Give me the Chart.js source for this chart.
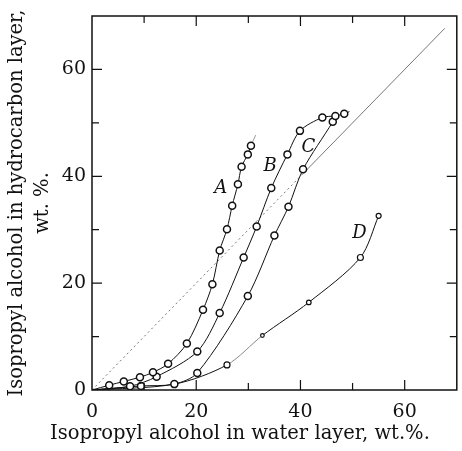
<!DOCTYPE html>
<html>
<head>
<meta charset="utf-8">
<script src="https://cdn.jsdelivr.net/npm/chart.js@4.4.0/dist/chart.umd.min.js"></script>
<style>
  html, body { margin: 0; padding: 0; background: #fff; }
  #wrap { width: 462px; height: 451px; }
</style>
</head>
<body>
<div id="wrap"><canvas id="chart" width="462" height="451"></canvas></div>
<script>
// values: [water layer wt.%, hydrocarbon layer wt.%]
const curveA = [[0, 0], [3.3, 0.9], [6.1, 1.6], [9.2, 2.4], [11.7, 3.3], [14.6, 4.9], [18.2, 8.7],
    [21.3, 15.0], [23.1, 19.8], [24.5, 26.1], [25.9, 30.1], [26.9, 34.5], [28.0, 38.5],
    [28.7, 41.8], [29.9, 44.1], [30.5, 45.7], [31.4, 47.7]];
const curveB = [[0, 0], [7.3, 0.7], [12.4, 2.5], [20.2, 7.2], [24.5, 14.4], [29.1, 24.8], [31.6, 30.6],
    [34.4, 37.8], [37.5, 44.1], [39.9, 48.5], [44.2, 51.0], [46.7, 51.3], [48.4, 51.7], [49.4, 52.1]];
const curveC = [[0, 0], [9.4, 0.75], [15.8, 1.1], [20.2, 3.2], [29.9, 17.6], [35.0, 28.9],
    [37.7, 34.3], [40.5, 41.3], [46.2, 50.2], [46.7, 51.3]];
const curveD = [[0, 0], [15.8, 1.1], [25.9, 4.7], [32.7, 10.2], [41.6, 16.4], [51.5, 24.8], [55.0, 32.6]];
const diagonal = [[0, 0], [40.5, 40.5], [67.7, 67.7]];

const curveLabels = ['A', 'B', 'C', 'D'];
const labelSpots = [[24.7, 37.8], [34.2, 41.8], [41.5, 45.5], [51.3, 29.3]];

const xTicks = [0, 20, 40, 60];
const yTicks = [0, 20, 40, 60];
const xTitle = 'Isopropyl alcohol in water layer, wt.%.';
const yTitle = ['Isopropyl alcohol in hydrocarbon layer,', 'wt. %.'];

const serif = '"DejaVu Serif", "Liberation Serif", serif';
const toXY = arr => arr.map(p => ({ x: p[0], y: p[1] }));

// axis titles in the figure run about 380px long
const probe = document.createElement('canvas').getContext('2d');
probe.font = '20px ' + serif;
const titleSize = Math.round(20 * 380 / probe.measureText(xTitle).width * 10) / 10;

// circles on every read point, none on the line ends
const markers = (last, r) => ctx => (ctx.dataIndex === 0 || ctx.dataIndex === last) ? 0 : r;

const curve = (data, radius, extra) => Object.assign({
    data: toXY(data),
    showLine: true,
    borderColor: '#111',
    borderWidth: 1,
    tension: 0.3,
    pointRadius: radius,
    pointBackgroundColor: '#fff',
    pointBorderColor: '#111',
    pointBorderWidth: 1.5
}, extra || {});

const frame = {
    id: 'frame',
    afterDraw(chart) {
        const { ctx, chartArea: a, scales: { x, y } } = chart;
        ctx.save();
        ctx.strokeStyle = '#111';
        ctx.lineWidth = 1.5;
        ctx.strokeRect(a.left, a.top, a.right - a.left, a.bottom - a.top);
        ctx.lineWidth = 1.2;
        for (let v = 10; v < 70; v += 10) {
            const len = v % 20 === 0 ? 10 : 7;
            const px = x.getPixelForValue(v);
            const py = y.getPixelForValue(v);
            ctx.beginPath();
            ctx.moveTo(px, a.bottom); ctx.lineTo(px, a.bottom - len);
            ctx.moveTo(px, a.top); ctx.lineTo(px, a.top + len);
            ctx.moveTo(a.left, py); ctx.lineTo(a.left + len, py);
            ctx.moveTo(a.right, py); ctx.lineTo(a.right - len, py);
            ctx.stroke();
        }
        ctx.fillStyle = '#111';
        ctx.font = 'italic 18px ' + serif;
        ctx.textAlign = 'center';
        ctx.textBaseline = 'middle';
        curveLabels.forEach((t, i) => {
            ctx.fillText(t, x.getPixelForValue(labelSpots[i][0]), y.getPixelForValue(labelSpots[i][1]));
        });
        // x title sits left of the axis centre in the original
        ctx.font = titleSize + 'px ' + serif;
        ctx.textAlign = 'left';
        ctx.fillText(xTitle, 50, 434);
        ctx.restore();
    }
};

new Chart(document.getElementById('chart'), {
    type: 'scatter',
    data: {
        datasets: [
            curve(curveA, markers(curveA.length - 1, 3.5), {
                segment: { borderColor: c => c.p1DataIndex === curveA.length - 1 ? '#999' : undefined }
            }),
            curve(curveB, markers(curveB.length - 1, 3.5)),
            curve(curveC, markers(curveC.length - 1, 3.5)),
            curve(curveD, [0, 0, 3, 1.8, 2.3, 3, 2.5], {
                pointBorderWidth: 1.2,
                segment: { borderColor: c => c.p1DataIndex === 3 ? '#888' : undefined }
            }),
            curve(diagonal, 0, {
                borderColor: '#777',
                tension: 0,
                segment: { borderDash: c => c.p1DataIndex === 1 ? [2, 3] : undefined }
            })
        ]
    },
    options: {
        responsive: false,
        animation: false,
        layout: { padding: { left: 0, top: 16, right: 0, bottom: 0 } },
        plugins: { legend: { display: false }, tooltip: { enabled: false } },
        scales: {
            x: {
                type: 'linear',
                min: 0,
                max: 70,
                afterFit: s => { s.height = 61; s.paddingLeft = 0; s.paddingRight = 0; },
                grid: { drawOnChartArea: false, drawTicks: false },
                border: { display: false },
                ticks: {
                    stepSize: 10,
                    autoSkip: false,
                    maxRotation: 0,
                    padding: 11,
                    color: '#111',
                    font: { family: serif, size: 19 },
                    callback: v => xTicks.includes(v) ? String(v) : ''
                },
                title: { display: false }
            },
            y: {
                type: 'linear',
                min: 0,
                max: 70,
                afterFit: s => { s.width = 92; s.paddingTop = 0; s.paddingBottom = 0; },
                grid: { drawOnChartArea: false, drawTicks: false },
                border: { display: false },
                ticks: {
                    stepSize: 10,
                    autoSkip: false,
                    padding: 6,
                    color: '#111',
                    font: { family: serif, size: 19 },
                    callback: v => yTicks.includes(v) ? String(v) : ''
                },
                title: {
                    display: true,
                    text: yTitle,
                    color: '#111',
                    font: { family: serif, size: titleSize, lineHeight: '26px' },
                    padding: { top: 4, bottom: 0 }
                }
            }
        }
    },
    plugins: [frame]
});
</script>
</body>
</html>
